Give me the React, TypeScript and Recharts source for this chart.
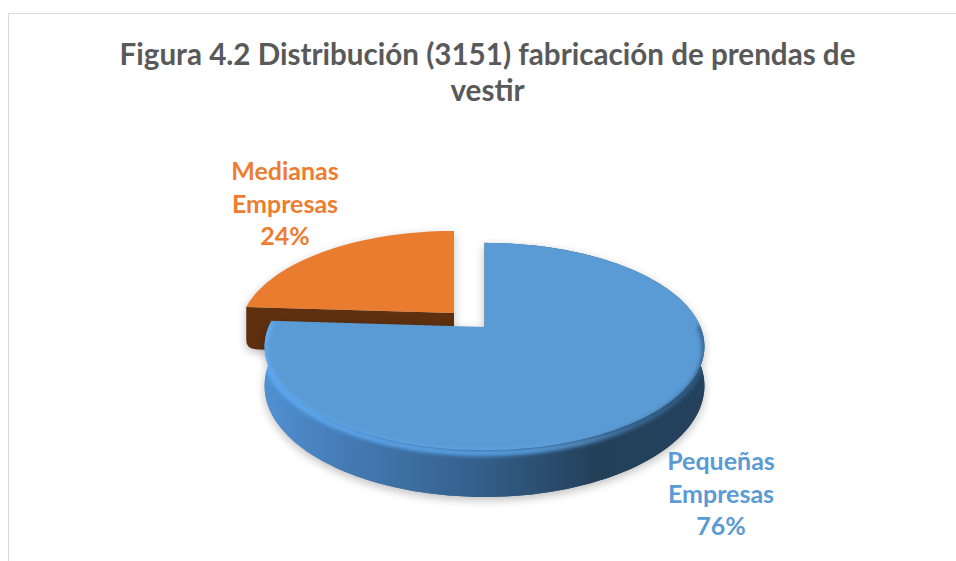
import { PieChart, Pie } from 'recharts';

const SEGMENTS = ['Medianas Empresas', 'Pequeñas Empresas'];
const SHARES = [24, 76];
const COLORS = ['#EA7C30', '#5B9BD5'];
const LABEL_COLORS = ['#ED7D31', '#5B9BD5'];
const pieData = SEGMENTS.map((name, i) => ({ name, value: SHARES[i], fill: COLORS[i], labelFill: LABEL_COLORS[i] }));

const FONT = 'Lato, sans-serif';
const TILT = 0.188; // perspective, back of the disc is smaller than the front
const X_STRETCH = 2.16;

// how each slice is pulled out of the pie
const EXPLODE: any = {
    'Medianas Empresas': { dx: -30.5, dy: -14, scale: 0.975, depth: 43 },
    'Pequeñas Empresas': { dx: 0, dy: 0, scale: 1, depth: 38 },
};

const LABEL_POS: any = {
    'Medianas Empresas': { x: 285, y: 180 },
    'Pequeñas Empresas': { x: 721, y: 470 },
};

function project(cx: number, cy: number, r: number, clock: number, rad: number, z = 0) {
    const t = (clock * Math.PI) / 180;
    const u = rad * Math.sin(t);
    const v = rad * Math.cos(t);
    const w = 1 + TILT * v;
    return [cx + (r * X_STRETCH * u) / w, cy - (r * v) / w + z / w];
}

function rim(cx: number, cy: number, r: number, from: number, to: number, z = 0) {
    const pts = [];
    const steps = Math.max(8, Math.ceil(Math.abs(to - from) / 2));
    for (let i = 0; i <= steps; i++) {
        pts.push(project(cx, cy, r, from + ((to - from) * i) / steps, 1, z));
    }
    return pts;
}

const toPath = (pts: number[][], close = true) =>
    'M' + pts.map((p) => `${p[0].toFixed(1)},${p[1].toFixed(1)}`).join('L') + (close ? 'Z' : '');

function Slice3D(props: any) {
    const { cx, cy, outerRadius, startAngle, endAngle, fill, name } = props;
    const ex = EXPLODE[name];
    const x0 = cx + ex.dx;
    const y0 = cy + ex.dy;
    const r = outerRadius * ex.scale;
    const from = 90 - startAngle;
    const to = 90 - endAngle;
    const isBlue = name === 'Pequeñas Empresas';
    const id = isBlue ? 'blue' : 'orange';

    const apex = project(x0, y0, r, 0, 0);
    const apexLow = project(x0, y0, r, 0, 0, ex.depth);
    const topRim = rim(x0, y0, r, from, to);
    const lowRim = rim(x0, y0, r, from, to, ex.depth);
    const face = toPath([apex, ...topRim]);
    const wall = toPath([...topRim, ...[...lowRim].reverse()]);
    const lowFace = toPath([apexLow, ...lowRim]);

    // orange only shows its cut side, with a rounded lower corner
    const top = topRim[0];
    const low = lowRim[0];
    const cutSide =
        `M${apex[0]},${apex[1]}L${top[0]},${top[1]}L${low[0]},${low[1] - 9}` +
        `Q${low[0]},${low[1]} ${low[0] + 12},${low[1]}L${apexLow[0]},${apexLow[1]}Z`;

    return (
        <g>
            <defs>
                <filter id={`${id}Soft`} x="-20%" y="-20%" width="140%" height="140%">
                    <feGaussianBlur stdDeviation={5} />
                </filter>
                <filter id={`${id}Glow`} x="-20%" y="-20%" width="140%" height="140%">
                    <feGaussianBlur stdDeviation={2} />
                </filter>
                <clipPath id={`${id}Clip`}>
                    <path d={face} />
                    <path d={wall} />
                </clipPath>
                <linearGradient id="blueWall" gradientUnits="userSpaceOnUse" x1={265} y1={0} x2={705} y2={0}>
                    <stop offset="0" stopColor="#5090D2" />
                    <stop offset="0.2" stopColor="#4379B2" />
                    <stop offset="0.5" stopColor="#335E88" />
                    <stop offset="0.75" stopColor="#234059" />
                    <stop offset="1" stopColor="#24425E" />
                </linearGradient>
                <linearGradient id="blueBevel" gradientUnits="userSpaceOnUse" x1={265} y1={0} x2={705} y2={0}>
                    <stop offset="0" stopColor="#62B0FA" />
                    <stop offset="0.6" stopColor="#62B0FA" />
                    <stop offset="0.72" stopColor="#5B9BD5" />
                    <stop offset="0.85" stopColor="#3F719F" />
                    <stop offset="1" stopColor="#2F5A82" />
                </linearGradient>
            </defs>
            <g filter={`url(#${id}Soft)`} opacity={0.26} transform="translate(0,3)">
                {isBlue ? <path d={wall} fill="#000" /> : <path d={cutSide} fill="#000" />}
                {isBlue && <path d={lowFace} fill="#000" />}
                <path d={face} fill="#000" />
            </g>
            {isBlue ? (
                <>
                    <path d={lowFace} fill="url(#blueWall)" />
                    <path d={wall} fill="url(#blueWall)" />
                </>
            ) : (
                <path d={cutSide} fill="#5E300F" />
            )}
            <path d={face} fill={fill} />
            {isBlue && (
                <g clipPath={`url(#${id}Clip)`}>
                    <path
                        d={toPath(rim(x0, y0, r, 88, to, 2.5), false)}
                        fill="none"
                        stroke="url(#blueBevel)"
                        strokeWidth={4.5}
                        filter={`url(#${id}Glow)`}
                    />
                </g>
            )}
        </g>
    );
}

function SliceLabel({ name, percent, labelFill }: any) {
    const pos = LABEL_POS[name];
    const lines = [...name.split(' '), `${Math.round(percent * 100)}%`];
    return (
        <text x={pos.x} y={pos.y} textAnchor="middle" fontFamily={FONT} fontWeight={700} fontSize={25} fill={labelFill}>
            {lines.map((line, i) => (
                <tspan key={i} x={pos.x} dy={i === 0 ? 0 : 32.5}>
                    {line}
                </tspan>
            ))}
        </text>
    );
}

export default function App() {
    return (
        <div style={{ position: 'absolute', left: 0, top: 0, width: 956, height: 561, background: '#fff', overflow: 'hidden' }}>
            {/* chart frame, the screenshot cuts it off right and bottom */}
            <div style={{ position: 'absolute', left: 8, top: 13, width: 948, height: 548, borderLeft: '1.5px solid #D9D9D9', borderTop: '1.5px solid #D9D9D9', boxSizing: 'border-box' }} />
            <div
                style={{
                    position: 'absolute', left: 0, top: 36, width: 975, textAlign: 'center',
                    fontFamily: FONT, fontWeight: 700, fontSize: 29.6, lineHeight: '36px', color: '#595959',
                }}
            >
                Figura 4.2 Distribución (3151) fabricación de prendas de
                <br />
                vestir
            </div>
            <div style={{ position: 'absolute', left: 0, top: 0 }}>
                <PieChart width={956} height={561} margin={{ top: 0, right: 0, bottom: 0, left: 0 }}>
                    <Pie
                        data={pieData}
                        dataKey="value"
                        nameKey="name"
                        cx={484.5}
                        cy={327}
                        outerRadius={100}
                        startAngle={176.4}
                        endAngle={-183.6}
                        stroke="none"
                        shape={Slice3D}
                        label={SliceLabel}
                        labelLine={false}
                        isAnimationActive={false}
                    />
                </PieChart>
            </div>
        </div>
    );
}
